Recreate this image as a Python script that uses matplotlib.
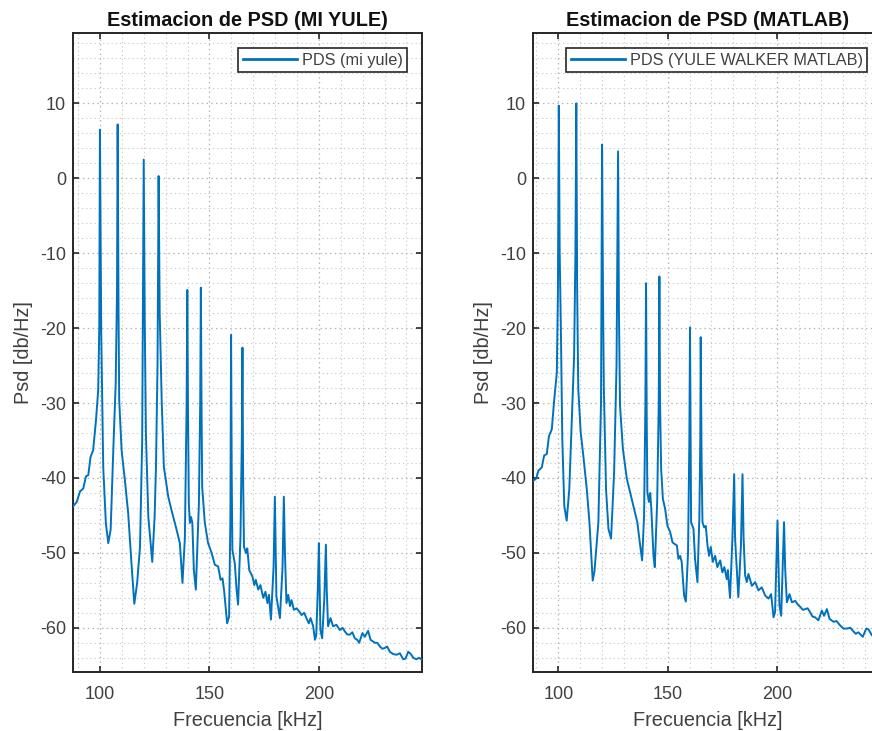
import matplotlib
matplotlib.use("Agg")
import matplotlib.pyplot as plt
from matplotlib.ticker import MultipleLocator

# ---------------- data ----------------
freq_mi = [87.7, 89.4, 90.9, 92.4, 93.6, 94.7, 95.7, 96.9, 98.2, 99.2, 99.7, 100.0, 100.6, 101.5,
           102.7, 103.8, 104.9, 106.1, 107.2, 107.8, 108.1, 108.5, 108.8, 109.9, 111.4, 112.9,
           114.5, 115.7, 117.0, 118.3, 119.3, 120.0, 120.5, 121.0, 122.1, 123.9, 125.0, 125.6,
           126.3, 126.8, 127.3, 128.2, 129.2, 131.2, 132.7, 135.0, 136.5, 137.7, 138.8, 139.6,
           139.9, 140.2, 140.6, 141.1, 141.6, 142.2, 142.9, 143.8, 145.2, 145.8, 146.1, 146.4,
           146.7, 147.9, 149.4, 151.0, 152.5, 154.0, 155.1, 156.0, 156.7, 158.1, 159.0, 159.6,
           159.9, 160.2, 160.5, 161.6, 162.4, 163.1, 164.2, 164.8, 165.1, 165.4, 165.8, 166.7,
           167.3, 168.2, 168.9, 169.7, 170.5, 171.2, 172.3, 173.3, 174.6, 175.6, 176.5, 177.2,
           178.1, 179.3, 179.9, 180.3, 180.6, 182.2, 183.4, 184.0, 184.5, 185.2, 186.0, 186.8,
           187.5, 188.6, 189.8, 191.0, 192.1, 193.3, 194.3, 195.4, 196.2, 197.4, 198.2, 198.8,
           199.5, 200.0, 200.4, 200.7, 201.5, 202.5, 203.2, 203.6, 204.2, 205.3, 206.5, 208.0,
           209.6, 210.8, 211.9, 213.0, 214.2, 215.3, 216.4, 217.5, 218.4, 219.9, 221.0, 222.5,
           223.6, 225.6, 226.7, 227.9, 229.0, 230.1, 231.2, 232.4, 233.9, 235.5, 237.0, 238.5,
           239.6, 240.8, 242.0, 243.1, 244.5, 245.8, 247.1]
psd_mi = [-43.8, -43.2, -41.8, -41.4, -39.8, -39.6, -37.2, -36.3, -32.3, -28.3, -20.0, 6.5, -20.7, -38.5,
          -46.0, -48.7, -46.9, -36.3, -27.4, -15.0, 7.2, -18.0, -29.6, -36.3, -40.3, -44.7,
          -51.8, -56.8, -54.0, -49.2, -35.0, 2.5, -20.0, -34.0, -45.2, -51.2, -45.0, -38.5,
          -25.0, 0.3, -18.0, -29.6, -38.5, -42.5, -44.3, -46.9, -48.7, -54.0, -48.0, -30.0,
          -14.9, -30.0, -43.4, -46.0, -45.2, -46.0, -52.3, -54.9, -43.4, -30.0, -14.6, -30.0,
          -41.2, -46.0, -48.7, -50.0, -51.6, -51.8, -53.6, -53.4, -55.0, -59.4, -58.5, -45.0,
          -20.9, -40.0, -49.6, -51.4, -54.9, -56.9, -47.8, -35.0, -22.6, -40.0, -49.2, -50.0,
          -49.4, -52.3, -52.7, -53.2, -54.3, -53.6, -54.9, -54.3, -56.0, -55.2, -56.7, -55.6,
          -58.9, -52.0, -42.5, -50.0, -55.8, -58.7, -52.0, -42.5, -50.0, -56.7, -55.6, -57.1,
          -56.3, -57.6, -57.4, -57.8, -58.3, -58.0, -58.7, -59.4, -58.7, -59.8, -61.6, -61.0,
          -55.0, -48.7, -55.0, -60.3, -61.4, -56.0, -48.9, -55.0, -59.8, -58.7, -59.8, -59.6,
          -60.3, -60.0, -60.5, -60.9, -60.9, -60.6, -61.4, -61.6, -62.0, -60.7, -61.2, -60.4,
          -61.6, -62.0, -62.0, -62.5, -62.8, -62.7, -62.5, -63.2, -63.5, -63.6, -63.4, -64.2,
          -64.1, -63.2, -63.5, -64.0, -64.2, -64.0, -64.3]

freq_ml = [88.4, 89.8, 90.9, 92.4, 93.5, 94.7, 95.7, 97.0, 98.0, 99.3, 99.8, 100.2, 100.6, 101.1,
           101.8, 102.7, 103.8, 105.0, 106.1, 107.2, 107.8, 108.2, 108.6, 109.1, 110.2, 111.4,
           113.0, 114.2, 115.7, 116.5, 118.3, 119.5, 120.0, 120.4, 120.8, 121.8, 122.9, 124.1,
           125.5, 126.6, 127.3, 127.7, 128.2, 129.5, 131.3, 132.8, 135.1, 136.1, 137.4, 138.3,
           139.2, 139.8, 140.1, 140.4, 140.7, 141.4, 142.0, 142.5, 143.5, 144.1, 145.2, 145.9,
           146.2, 146.5, 147.0, 147.8, 148.8, 149.9, 151.1, 152.2, 153.1, 154.2, 154.9, 155.7,
           156.4, 157.5, 158.3, 159.3, 159.9, 160.2, 160.5, 160.7, 161.8, 162.5, 163.6, 164.5,
           164.9, 165.1, 165.5, 165.9, 166.7, 167.4, 168.2, 168.9, 169.7, 170.6, 171.7, 172.7,
           174.0, 175.0, 175.9, 177.0, 177.5, 178.5, 179.6, 180.4, 180.8, 182.3, 183.5, 184.2,
           184.7, 185.4, 186.2, 186.9, 188.5, 190.0, 191.5, 193.0, 194.6, 196.1, 197.3, 198.4,
           199.1, 199.8, 200.2, 200.7, 201.1, 201.9, 202.8, 203.2, 203.7, 204.5, 205.7, 206.8,
           208.3, 209.5, 210.6, 211.8, 212.9, 214.0, 215.1, 216.2, 217.4, 218.9, 220.5, 221.5,
           222.8, 224.0, 225.8, 227.2, 228.9, 230.4, 231.9, 233.5, 235.0, 236.0, 237.2, 239.2,
           240.8, 241.8, 243.4, 245.5, 248.0]
psd_ml = [-40.4, -40.1, -39.0, -38.6, -37.0, -36.8, -34.4, -33.5, -29.9, -25.9, -15.0, 9.7, -10.0, -19.2,
          -34.8, -43.7, -45.7, -41.5, -32.6, -23.7, -10.0, 10.0, -15.0, -28.1, -33.9, -37.0,
          -41.5, -45.9, -53.7, -52.5, -45.9, -30.0, 4.5, -15.0, -28.1, -41.5, -46.8, -48.1,
          -39.2, -25.0, 3.6, -18.0, -30.4, -36.1, -40.1, -41.9, -44.6, -45.9, -49.0, -51.0,
          -45.0, -30.0, -14.0, -32.0, -41.9, -43.2, -42.0, -44.1, -50.4, -51.9, -43.0, -30.0,
          -13.1, -30.0, -38.8, -42.8, -44.1, -46.4, -47.2, -48.6, -48.8, -49.0, -50.8, -50.4,
          -51.2, -55.7, -56.5, -50.0, -35.0, -19.9, -35.0, -45.9, -46.8, -50.8, -53.9, -45.0,
          -35.0, -21.2, -38.0, -45.9, -46.6, -46.4, -49.0, -50.4, -49.2, -51.2, -50.4, -51.9,
          -51.0, -52.6, -51.9, -53.5, -52.3, -56.0, -48.0, -39.5, -48.0, -55.9, -49.0, -39.5,
          -48.0, -53.0, -53.9, -52.8, -54.4, -53.9, -55.0, -54.6, -55.7, -56.1, -55.5, -58.6,
          -57.9, -50.0, -45.7, -52.0, -57.0, -58.4, -50.0, -45.9, -52.0, -56.6, -55.5, -56.6,
          -56.4, -56.9, -57.2, -57.6, -57.5, -57.4, -57.9, -58.5, -58.6, -59.0, -57.7, -58.4,
          -57.5, -58.8, -59.2, -59.1, -59.7, -60.1, -60.1, -60.0, -60.5, -60.8, -60.6, -61.2,
          -60.1, -60.2, -61.0, -61.3, -61.5]

titles = ["Estimacion de PSD (MI YULE)", "Estimacion de PSD (MATLAB)"]
legends = ["PDS (mi yule)", "PDS (YULE WALKER MATLAB)"]
xlabel_txt = "Frecuencia [kHz]"
ylabel_txt = "Psd [db/Hz]"
xticks = [100, 150, 200]
yticks = [-60, -50, -40, -30, -20, -10, 0, 10]

# ---------------- style ----------------
plt.rcParams['font.family'] = ['Liberation Sans', 'DejaVu Sans']
plt.rcParams['axes.unicode_minus'] = False
LINE = '#0072BD'
AXC = '#262626'
TXT = '#404040'

W, H = 872, 731
fig = plt.figure(figsize=(W / 100, H / 100), dpi=100)
fig.patch.set_facecolor('white')

panels = [
    dict(x=freq_mi, y=psd_mi, left=73, xlim=(87.7, 247.1)),
    dict(x=freq_ml, y=psd_ml, left=533, xlim=(88.4, 248.0)),
]

for i, p in enumerate(panels):
    ax = fig.add_axes([p['left'] / W, (H - 672) / H, 349 / W, (672 - 33) / H])
    ax.plot(p['x'], p['y'], color=LINE, lw=1.4, label=legends[i], zorder=3)
    ax.set_xlim(*p['xlim'])
    ax.set_ylim(-65.9, 19.4)
    ax.set_xticks(xticks)
    ax.set_yticks(yticks)
    ax.xaxis.set_minor_locator(MultipleLocator(10))
    ax.yaxis.set_minor_locator(MultipleLocator(2))
    ax.grid(which='major', linestyle=(0, (1.2, 2.6)), color='#b4b4b4', lw=0.9, zorder=0)
    ax.grid(which='minor', linestyle=(0, (1.2, 2.6)), color='#cdcdcd', lw=0.8, zorder=0)
    ax.set_axisbelow(True)
    for s in ax.spines.values():
        s.set_color(AXC)
        s.set_linewidth(1.4)
    ax.tick_params(which='major', direction='in', length=4.5, width=1.2, color=AXC,
                   top=True, right=True, labelsize=13, labelcolor=TXT)
    ax.tick_params(axis='x', which='major', pad=10)
    ax.tick_params(axis='y', which='major', pad=5)
    ax.tick_params(which='minor', length=0)
    ax.set_title(titles[i], fontsize=14.3, fontweight='bold', color='#111111', pad=5)
    ax.set_xlabel(xlabel_txt, fontsize=14.3, color=TXT, labelpad=6)
    ax.set_ylabel(ylabel_txt, fontsize=14.3, color=TXT, labelpad=5)
    leg = ax.legend(loc='upper right', fontsize=11.7, frameon=True, fancybox=False,
                    framealpha=1, edgecolor=AXC, handlelength=3.3, handletextpad=0.3,
                    borderpad=0.3, borderaxespad=0.9)
    leg.get_frame().set_linewidth(1.2)
    for t in leg.get_texts():
        t.set_color(TXT)
    for l in leg.get_lines():
        l.set_linewidth(2)

fig.savefig('out.png', dpi=100, facecolor='white')
